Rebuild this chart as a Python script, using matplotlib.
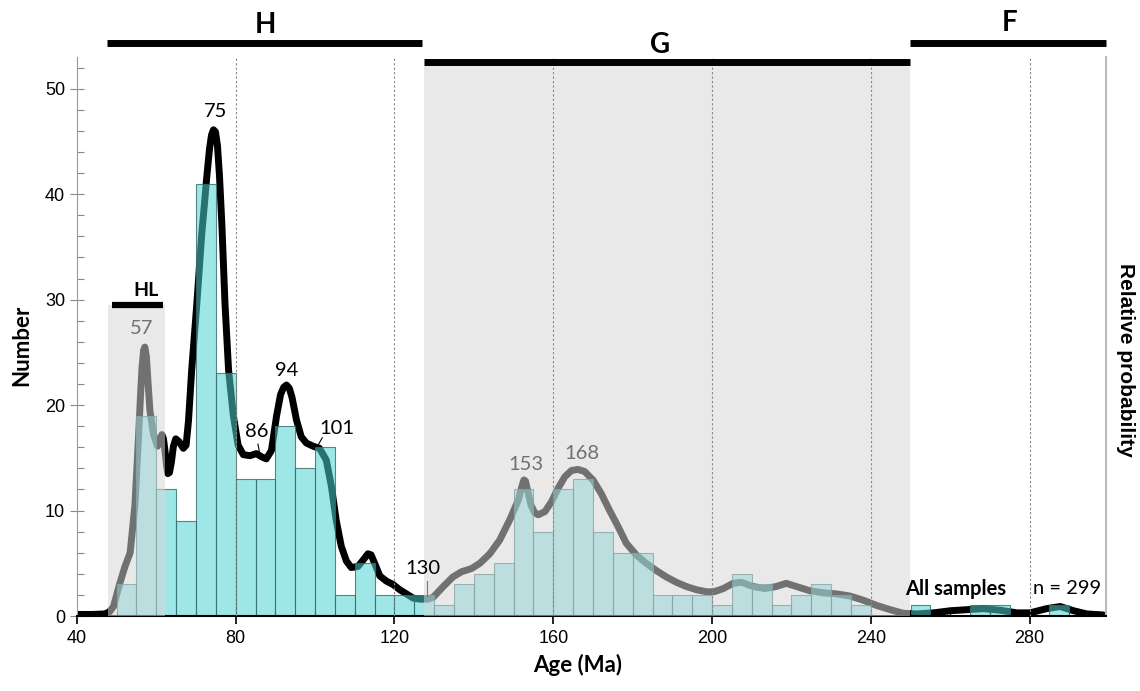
import numpy as np
import matplotlib
matplotlib.use('Agg')
import matplotlib.pyplot as plt
from matplotlib.ticker import MultipleLocator

# Detrital zircon ages, all samples (n = 299)
bin_left = list(range(50, 290, 5))
counts = [3, 19, 12, 9, 41, 23, 13, 13, 18, 14, 16, 2, 5, 2, 2, 2,
          1, 3, 4, 5, 12, 8, 12, 13, 8, 6, 6, 2, 2, 2, 1, 4, 3, 1, 2, 3, 2, 1,
          0, 0, 1, 0, 0, 1, 1, 0, 0, 1]

# Relative probability curve (scaled to the count axis)
pdp_age = [40, 44, 47, 48.2, 49.2, 50.8, 52.1, 53.4, 54.6, 55.5, 56.0, 56.4, 56.8,
           57.1, 57.5, 57.9, 58.4, 59.3, 60.3, 61.0, 61.4, 61.8, 62.2, 62.6, 62.9,
           63.3, 63.8, 64.3, 64.9, 65.8, 66.8, 67.5, 68.1, 68.9, 70.2, 71.4, 72.7,
           73.4, 73.9, 74.4, 74.9, 75.4, 75.9, 76.5, 77.3, 78.2, 79.4, 80.6, 81.9,
           83.6, 85.2, 86.5, 87.7, 89.0, 90.3, 91.3, 92.1, 92.8, 93.5, 94.2, 95.3,
           96.5, 97.8, 99.5, 101.1, 102.8, 104.1, 105.3, 106.6, 107.9, 109.1, 110.8,
           112.3, 113.3, 114.1, 115.0, 116.3, 118.0, 119.6, 121.3, 123.0, 124.7,
           126.4, 128.5, 129.8, 132.3, 134.7, 136.9, 139.4, 141.5, 144.0, 146.5,
           149.0, 151.2, 152.1, 152.6, 153.0, 153.6, 154.4, 155.3, 156.2, 157.9,
           159.5, 161.2, 162.9, 164.6, 166.2, 167.9, 170.0, 172.1, 174.2, 176.3,
           178.4, 180.9, 183.4, 186.0, 188.5, 191.0, 193.5, 196.0, 198.6, 200.5,
           202.8, 205.3, 207.4, 210.3, 213.3, 216.2, 218.7, 221.2, 224.6, 228.0,
           231.3, 234.7, 238.1, 241.5, 244.9, 248.2, 251.6, 255.8, 260.0, 264.2,
           268.4, 272.6, 276.8, 280.1, 284.3, 287.7, 291.1, 294.4, 298.6]
pdp_val = [0.15, 0.15, 0.2, 0.4, 0.9, 3.1, 4.7, 6.0, 10.5, 16.9, 20.8, 23.6, 25.2,
           25.5, 24.6, 22.2, 19.4, 17.2, 16.1, 16.8, 17.2, 16.8, 15.6, 14.2, 13.5,
           13.6, 14.6, 16.1, 16.8, 16.5, 15.9, 16.2, 18.5, 23.3, 29.6, 36.0, 41.6,
           44.3, 45.6, 46.1, 45.9, 44.6, 41.8, 37.2, 29.6, 23.3, 19.0, 16.2, 15.3,
           15.2, 15.4, 15.1, 14.9, 15.7, 19.0, 21.0, 21.7, 21.9, 21.6, 20.7, 18.6,
           17.0, 16.4, 16.1, 15.9, 14.8, 12.3, 9.1, 6.6, 5.2, 4.6, 4.7,
           5.4, 5.9, 5.8, 5.0, 3.8, 3.3, 3.0, 2.5, 2.1, 1.7,
           1.6, 1.6, 1.8, 2.8, 3.7, 4.2, 4.5, 5.0, 5.9, 7.2,
           9.1, 11.0, 12.3, 12.9, 12.8, 11.8, 10.5, 9.8, 9.6, 9.9,
           10.8, 12.1, 13.2, 13.8, 13.9, 13.7, 12.9, 11.6, 10.0, 8.5,
           6.9, 5.8, 5.0, 4.3, 3.7, 3.2, 2.8, 2.5, 2.3, 2.3,
           2.6, 3.1, 3.2, 2.8, 2.6, 2.8, 3.1, 2.8, 2.4, 2.2,
           2.1, 1.9, 1.5, 1.0, 0.6, 0.26, 0.2, 0.3, 0.5, 0.6,
           0.7, 0.55, 0.3, 0.3, 0.7, 0.9, 0.5, 0.2, 0.1]

# peak labels: (text, x, y, colour)
peak_labels = [('75', 74.8, 47.8, 'black'), ('94', 92.8, 23.3, 'black'),
               ('86', 85.3, 17.5, 'black'), ('101', 105.4, 17.8, 'black'),
               ('130', 127.2, 4.5, 'black'), ('57', 56.3, 27.3, '#707070'),
               ('153', 153.1, 14.4, '#707070'), ('168', 167.3, 15.4, '#707070')]

# age groups along the top: (name, start, end, bar height)
groups = [('H', 47.6, 127.0, 54.3), ('G', 127.4, 249.8, 52.5), ('F', 249.8, 299.2, 54.3)]

plt.rcParams['font.family'] = ['Liberation Sans', 'DejaVu Sans']
lab_font = ['Lato', 'DejaVu Sans']

fig = plt.figure(figsize=(11.4, 6.91), dpi=100)
ax = fig.add_axes([0.0675, 0.1085, 0.9025, 0.809])

# probability curve sits under the semi-transparent bars
ax.plot(pdp_age, pdp_val, color='black', lw=5, solid_capstyle='round',
        solid_joinstyle='round', zorder=1)

bl = [b for b, c in zip(bin_left, counts) if c > 0]
bc = [c for c in counts if c > 0]
ax.bar(bl, bc, width=5, align='edge', color=(0.31, 0.83, 0.83, 0.54),
       edgecolor=(0.2, 0.42, 0.42, 0.8), linewidth=0.8, zorder=2)

# shaded zones
ax.fill_between([47.7, 62.3], 0, 29.5, color='#d6d6d6', alpha=0.53, lw=0, zorder=3)
ax.fill_between([127.4, 249.8], 0, 52.5, color='#d6d6d6', alpha=0.53, lw=0, zorder=3)

for xv in range(80, 281, 40):
    ax.axvline(xv, color='#888888', lw=0.8, ls=(0, (2, 2)), zorder=4)

for name, x0, x1, yb in groups:
    ax.plot([x0, x1], [yb, yb], color='black', lw=5, solid_capstyle='butt',
            clip_on=False, zorder=6)
ax.text(87.4, 56.0, 'H', ha='center', va='center', fontsize=20, fontweight='bold',
        family=lab_font, clip_on=False)
ax.text(186.8, 54.1, 'G', ha='center', va='center', fontsize=20, fontweight='bold',
        family=lab_font, clip_on=False)
ax.text(275, 56.2, 'F', ha='center', va='center', fontsize=20, fontweight='bold',
        family=lab_font, clip_on=False)

ax.plot([48.8, 61.7], [29.5, 29.5], color='black', lw=4.5, solid_capstyle='butt', zorder=6)
ax.text(57.4, 30.9, 'HL', ha='center', va='center', fontsize=14, fontweight='bold',
        family=lab_font)

for txt, x, y, col in peak_labels:
    ax.text(x, y, txt, ha='center', va='center', fontsize=14.5, color=col,
            family=lab_font, zorder=6)
ax.plot([85.6, 86.0], [16.3, 15.5], color='black', lw=0.8, zorder=6)
ax.plot([101.8, 100.6], [16.9, 16.1], color='black', lw=0.8, zorder=6)
ax.plot([128.3, 128.3], [3.3, 1.9], color='#777777', lw=0.8, zorder=6)

ax.text(248.6, 2.6, 'All samples', ha='left', va='center', fontsize=14.5,
        fontweight='bold', family=lab_font, zorder=6)
ax.text(280.8, 2.6, 'n = 299', ha='left', va='center', fontsize=14.5,
        family=lab_font, zorder=6)

ax.set_xlim(40, 299.2)
ax.set_ylim(0, 53)
ax.xaxis.set_major_locator(MultipleLocator(40))
ax.xaxis.set_minor_locator(MultipleLocator(10))
ax.yaxis.set_major_locator(MultipleLocator(10))
ax.yaxis.set_minor_locator(MultipleLocator(2))
ax.tick_params(axis='x', which='major', direction='out', length=6, width=1.2,
               labelsize=13, pad=4)
ax.tick_params(axis='x', which='minor', direction='in', length=3, width=0.8)
ax.tick_params(axis='y', which='major', direction='inout', length=10, width=0.8,
               color='#888888', labelsize=13)
ax.tick_params(axis='y', which='minor', direction='in', length=5, width=0.8,
               color='#888888')

ax.spines['top'].set_visible(False)
ax.spines['left'].set_color('#999999')
ax.spines['right'].set_color('#bbbbbb')
ax.spines['right'].set_linewidth(1.5)
ax.spines['bottom'].set_linewidth(1.5)

fig.text(578 / 1140, 1 - 665 / 691, 'Age (Ma)', ha='center', va='center',
         fontsize=16, fontweight='bold', family=lab_font)
fig.text(22 / 1140, 1 - 345 / 691, 'Number', ha='center', va='center', rotation=90,
         fontsize=16, fontweight='bold', family=lab_font)
fig.text(1125 / 1140, 1 - 360 / 691, 'Relative probability', ha='center', va='center',
         rotation=270, fontsize=15, fontweight='bold')

fig.savefig('out.png', dpi=100)
